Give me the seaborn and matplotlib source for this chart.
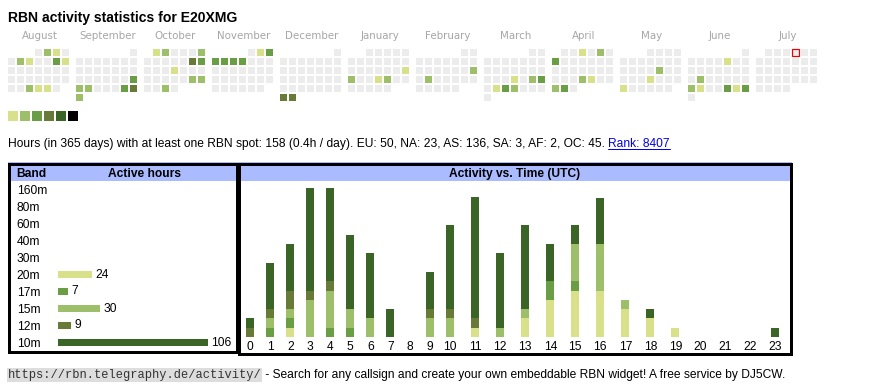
import calendar
import datetime as dt
import numpy as np
import pandas as pd
import matplotlib
matplotlib.use("Agg")
import matplotlib.pyplot as plt
from matplotlib.colors import ListedColormap
from matplotlib.patches import Rectangle
import seaborn as sns

# ---------------- data ----------------
title = "RBN activity statistics for E20XMG"
month_names = ["August", "September", "October", "November", "December", "January",
               "February", "March", "April", "May", "June", "July"]
month_years = [2024, 2024, 2024, 2024, 2024, 2025, 2025, 2025, 2025, 2025, 2025, 2025]
month_numbers = [8, 9, 10, 11, 12, 1, 2, 3, 4, 5, 6, 7]

active_days = [
    "2024-08-02", "2024-08-03", "2024-08-06", "2024-08-07", "2024-08-10", "2024-08-11",
    "2024-08-28", "2024-08-29", "2024-08-30",
    "2024-09-22", "2024-09-23", "2024-09-24", "2024-09-28", "2024-09-29", "2024-09-30",
    "2024-10-01", "2024-10-02", "2024-10-06", "2024-10-12", "2024-10-13", "2024-10-17",
    "2024-10-26", "2024-10-27", "2024-10-30",
    "2024-11-02", "2024-11-03", "2024-11-04", "2024-11-05", "2024-11-06", "2024-11-07",
    "2024-12-30", "2024-12-31",
    "2025-01-19", "2025-01-20", "2025-01-23", "2025-01-24",
    "2025-02-16", "2025-02-18",
    "2025-03-20", "2025-03-22", "2025-03-23", "2025-03-25", "2025-03-26", "2025-03-27",
    "2025-04-03", "2025-04-05", "2025-04-07", "2025-04-24", "2025-04-25", "2025-04-28", "2025-04-29",
    "2025-05-16", "2025-05-22", "2025-05-26",
    "2025-06-06", "2025-06-17", "2025-06-23", "2025-06-24", "2025-06-27", "2025-06-28", "2025-06-29",
]
active_levels = [
    2, 1, 2, 1, 3, 1,
    2, 1, 1,
    3, 2, 2, 3, 4, 2,
    1, 2, 2, 4, 3, 1,
    2, 2, 2,
    1, 3, 3, 3, 3, 3,
    4, 4,
    1, 2, 1, 2,
    2, 2,
    1, 2, 3, 1, 3, 2,
    1, 2, 3, 2, 1, 2, 3,
    2, 1, 1,
    1, 2, 2, 1, 3, 1, 3,
]
today = "2025-07-04"
level_colors = ["#d9e08a", "#9dbf69", "#6a9e45", "#677a38", "#3b6427", "#000000"]
empty_color = "#ececec"

summary_text = ("Hours (in 365 days) with at least one RBN spot: 158 (0.4h / day). "
                "EU: 50, NA: 23, AS: 136, SA: 3, AF: 2, OC: 45.")
rank_text = "Rank: 8407"
url_text = "https://rbn.telegraphy.de/activity/"
footer_text = " - Search for any callsign and create your own embeddable RBN widget! A free service by DJ5CW."

bands = ["160m", "80m", "60m", "40m", "30m", "20m", "17m", "15m", "12m", "10m"]
band_hours = [0, 0, 0, 0, 0, 24, 7, 30, 9, 106]
band_palette = {"160m": "#888888", "80m": "#888888", "60m": "#888888", "40m": "#888888",
                "30m": "#888888", "20m": "#d9e08a", "17m": "#6a9e45", "15m": "#9dbf69",
                "12m": "#677a38", "10m": "#3b6427"}

hours = list(range(24))
hours_20m = [0, 0, 1, 0, 0, 0, 0, 0, 0, 0, 0, 1, 0, 2, 4, 5, 5, 3, 2, 1, 0, 0, 0, 0]
hours_17m = [0, 1, 1, 0, 1, 1, 0, 0, 0, 0, 0, 0, 0, 0, 2, 1, 0, 0, 0, 0, 0, 0, 0, 0]
hours_15m = [0, 1, 1, 4, 4, 2, 2, 0, 0, 2, 2, 0, 1, 1, 0, 4, 5, 1, 0, 0, 0, 0, 0, 0]
hours_12m = [1, 1, 2, 1, 1, 0, 0, 0, 0, 1, 1, 1, 0, 0, 0, 0, 0, 0, 0, 0, 0, 0, 0, 0]
hours_10m = [1, 5, 5, 11, 10, 8, 7, 3, 0, 4, 9, 13, 8, 9, 4, 2, 5, 0, 1, 0, 0, 0, 0, 1]

# ---------------- layout ----------------
W, H = 870, 390
PT = 72 / 100  # points per pixel at dpi 100

sns.set_theme(style="white", rc={"text.color": "black", "xtick.color": "black",
                                 "ytick.color": "black", "axes.labelcolor": "black"})
plt.rcParams["font.family"] = ["Liberation Sans", "DejaVu Sans"]

fig = plt.figure(figsize=(W / 100, H / 100), dpi=100)
fig.patch.set_facecolor("white")


def add_px_axes(x0, y0, x1, y1, **kw):
    return fig.add_axes([x0 / W, 1 - y1 / H, (x1 - x0) / W, (y1 - y0) / H], **kw)


bg = add_px_axes(0, 0, W, H, zorder=0)
bg.set_xlim(0, W)
bg.set_ylim(H, 0)
bg.axis("off")

# title
bg.text(8, 21.7, title, fontsize=14 * PT, weight="bold", va="baseline")

# calendar
level_by_day = dict(zip(active_days, active_levels))
cal_cmap = ListedColormap([empty_color] + level_colors[:5])
today_d = dt.date.fromisoformat(today)
for m, (name, yr, mo) in enumerate(zip(month_names, month_years, month_numbers)):
    first = dt.date(yr, mo, 1)
    ndays = calendar.monthrange(yr, mo)[1]
    grid = np.full((6, 7), np.nan)
    for d in range(1, ndays + 1):
        idx = first.weekday() + d - 1
        grid[idx // 7, idx % 7] = level_by_day.get(dt.date(yr, mo, d).isoformat(), 0)
    x0 = 8 + 68 * m
    ax = add_px_axes(x0 - 1, 48, x0 - 1 + 63, 48 + 54, zorder=1)
    sns.heatmap(grid, ax=ax, cmap=cal_cmap, vmin=-0.5, vmax=5.5, cbar=False,
                linewidths=2 * PT, linecolor="white", xticklabels=False, yticklabels=False)
    bg.text(x0 + 31.5, 39, name, ha="center", va="baseline", color="#a6a6a6",
            fontsize=10.2 * PT, family="DejaVu Sans")
    if (today_d.year, today_d.month) == (yr, mo):
        idx = first.weekday() + today_d.day - 1
        r, c = divmod(idx, 7)
        ax.add_patch(Rectangle((c + 0.6 / 9, r + 0.6 / 9), 7.8 / 9, 7.8 / 9, fill=False,
                               edgecolor="#ee0000", lw=1.2 * PT, zorder=5, clip_on=False))

# legend squares
lax = add_px_axes(7, 110, 79, 122, zorder=1)
sns.heatmap(np.arange(6)[None, :], ax=lax, cmap=ListedColormap(level_colors), cbar=False,
            linewidths=2 * PT, linecolor="white", xticklabels=False, yticklabels=False)

# summary line
renderer = fig.canvas.get_renderer()
fs_txt = 12 * PT
t1 = bg.text(8, 147, summary_text, fontsize=fs_txt, va="baseline")
bb1 = t1.get_window_extent(renderer)
x_rank = bb1.x1 + 0.278 * 12
t2 = bg.text(x_rank, 147, rank_text, fontsize=fs_txt, va="baseline", color="#0000ee")
bb2 = t2.get_window_extent(renderer)
bg.plot([bb2.x0, bb2.x1], [148.5, 148.5], color="#0000ee", lw=1 * PT)

# footer
t3 = bg.text(8, 378.3, url_text, fontsize=12 * PT, va="baseline", family="Liberation Mono",
             color="#333333", zorder=3)
bb3 = t3.get_window_extent(renderer)
bg.add_patch(Rectangle((7, 368), bb3.x1 - 7, 14, fc="#dddddd", ec="none", zorder=2))
bg.text(bb3.x1, 378.3, footer_text, fontsize=fs_txt, va="baseline")

# boxes
blue = "#aabbff"
bg.add_patch(Rectangle((8, 162), 231, 19, fc=blue, ec="none"))
bg.add_patch(Rectangle((238, 162), 554.5, 19, fc=blue, ec="none"))
bg.add_patch(Rectangle((9.5, 163.5), 228, 188, fill=False, ec="black", lw=3 * PT))
bg.add_patch(Rectangle((239.5, 163.5), 551.5, 190, fill=False, ec="black", lw=3 * PT))
bg.text(16.7, 176.7, "Band", fontsize=12 * PT, weight="bold", va="baseline")
bg.text(144.5, 176.7, "Active hours", fontsize=12 * PT, weight="bold", va="baseline", ha="center")
bg.text(515, 176.7, "Activity vs. Time (UTC)", fontsize=12 * PT, weight="bold",
        va="baseline", ha="center")

# left panel: active hours per band
px_per_hour_l = 1.415
axl = add_px_axes(58, 181, 236, 351, zorder=2)
axl.patch.set_alpha(0)
band_df = pd.DataFrame({"band": bands, "hours": band_hours})
sns.barplot(data=band_df, x="hours", y="band", hue="band", palette=band_palette, order=bands,
            hue_order=bands, orient="h", width=7 / 17, legend=False, ax=axl, saturation=1,
            linewidth=0, dodge=False)
axl.set_xlim(0, (236 - 58) / px_per_hour_l)
axl.set_ylim(9.5, -0.5)
axl.set_yticks(range(len(bands)))
axl.set_yticklabels(bands, ha="left", va="center_baseline", fontsize=12 * PT)
axl.tick_params(axis="y", length=0, pad=(58 - 16.7) * PT)
axl.set_xticks([])
axl.set_xlabel("")
axl.set_ylabel("")
sns.despine(ax=axl, left=True, bottom=True)
for cont in axl.containers:
    vals = [v for v in cont.datavalues]
    labs = [f"{int(v)}" if v > 0 else "" for v in vals]
    axl.bar_label(cont, labels=labs, padding=2.4, fontsize=12 * PT)

# right panel: activity vs time
px_per_hour_r = 9.3
axr = add_px_axes(241, 181, 789.5, 337, zorder=2)
axr.patch.set_alpha(0)
col_w = [20 if h < 10 else 25 for h in hours]
pos = [250.3 + sum(col_w[:h]) for h in hours]
series = {"20m": hours_20m, "17m": hours_17m, "15m": hours_15m, "12m": hours_12m, "10m": hours_10m}
rows = []
for b, vals in series.items():
    for h, v in zip(hours, vals):
        if v > 0:
            rows.append({"pos": pos[h], "band": b, "count": v})
act_df = pd.DataFrame(rows)
edges = sorted([p - 3.85 for p in pos] + [p + 3.85 for p in pos])
sns.histplot(data=act_df, x="pos", weights="count", hue="band",
             hue_order=["10m", "12m", "15m", "17m", "20m"], palette=band_palette,
             multiple="stack", bins=edges, alpha=1, linewidth=0, legend=False, ax=axr)
axr.set_xlim(241, 789.5)
axr.set_ylim(0, (337 - 181) / px_per_hour_r)
axr.set_xticks(pos)
axr.set_xticklabels([str(h) for h in hours], fontsize=12 * PT)
axr.tick_params(axis="x", length=0, pad=2.6)
axr.set_yticks([])
axr.set_xlabel("")
axr.set_ylabel("")
sns.despine(ax=axr, left=True, bottom=True)

fig.savefig("out.png", dpi=100, facecolor="white")
